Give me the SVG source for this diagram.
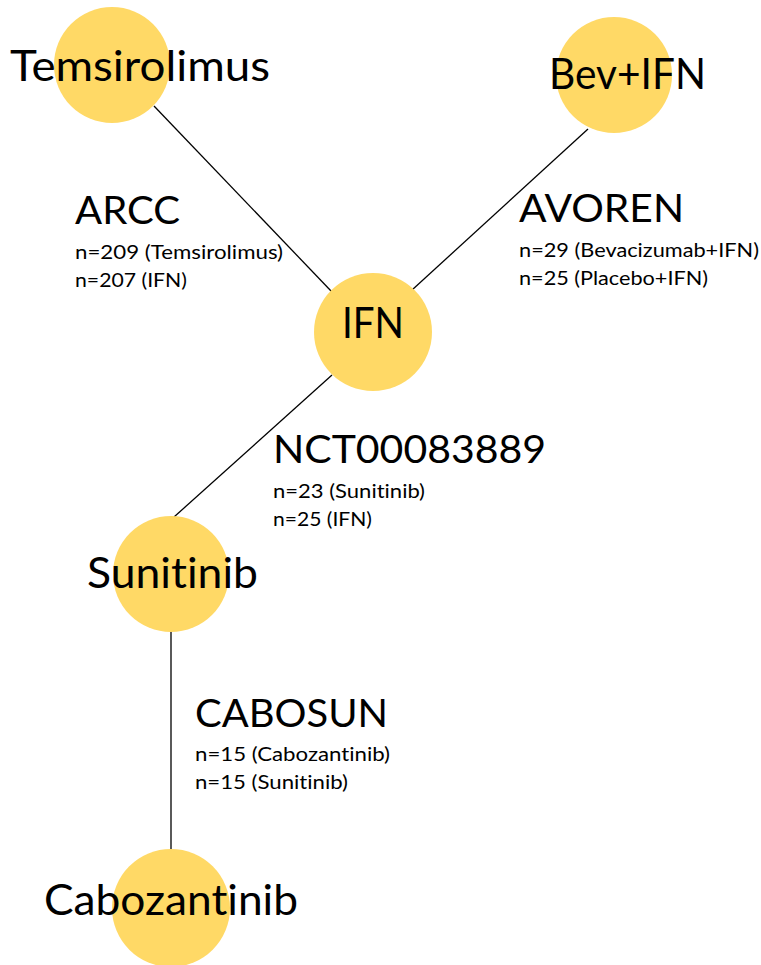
<svg xmlns="http://www.w3.org/2000/svg" width="761" height="965" viewBox="0 0 761 965">
<style>
.node{fill:#FFD966;}
.edge{stroke:#000;stroke-width:1.3;fill:none;}
text{font-family:Lato,"Open Sans","Liberation Sans",sans-serif;fill:#000;font-variant-ligatures:none;font-feature-settings:"liga" 0;}
.nl{font-size:42px;}
.tt{font-size:39px;}
.sm{font-size:19.5px;}
</style>
<rect width="761" height="965" fill="#fff"/>
<g id="connectors">
<line class="edge" x1="154" y1="106" x2="332" y2="292"/>
<line class="edge" x1="588" y1="129" x2="412" y2="290"/>
<line class="edge" x1="332" y1="375" x2="174" y2="517"/>
<line class="edge" x1="171" y1="630" x2="171" y2="851"/>
</g>
<g id="node-temsirolimus">
<circle class="node" cx="112" cy="65" r="58"/>
<text class="nl" x="10" y="81" textLength="260" lengthAdjust="spacingAndGlyphs">Temsirolimus</text>
</g>
<g id="node-bevifn">
<circle class="node" cx="614" cy="75" r="58"/>
<text class="nl" x="549" y="89" textLength="157" lengthAdjust="spacingAndGlyphs">Bev+IFN</text>
</g>
<g id="node-ifn">
<circle class="node" cx="373" cy="332" r="59"/>
<text class="nl" x="342" y="338" textLength="62" lengthAdjust="spacingAndGlyphs">IFN</text>
</g>
<g id="node-sunitinib">
<circle class="node" cx="171" cy="574" r="58"/>
<text class="nl" x="87" y="588" textLength="171" lengthAdjust="spacingAndGlyphs">Sunitinib</text>
</g>
<g id="node-cabozantinib">
<circle class="node" cx="171" cy="908" r="59"/>
<text class="nl" x="44" y="915" textLength="254" lengthAdjust="spacingAndGlyphs">Cabozantinib</text>
</g>
<g id="label-arcc">
<text class="tt" x="75" y="224" textLength="105" lengthAdjust="spacingAndGlyphs">ARCC</text>
<text class="sm" x="75" y="259" textLength="208" lengthAdjust="spacingAndGlyphs">n=209 (Temsirolimus)</text>
<text class="sm" x="75" y="287" textLength="112" lengthAdjust="spacingAndGlyphs">n=207 (IFN)</text>
</g>
<g id="label-avoren">
<text class="tt" x="519" y="222" textLength="165" lengthAdjust="spacingAndGlyphs">AVOREN</text>
<text class="sm" x="519" y="257" textLength="240" lengthAdjust="spacingAndGlyphs">n=29 (Bevacizumab+IFN)</text>
<text class="sm" x="519" y="285" textLength="189" lengthAdjust="spacingAndGlyphs">n=25 (Placebo+IFN)</text>
</g>
<g id="label-nct">
<text class="tt" x="273" y="463" textLength="273" lengthAdjust="spacingAndGlyphs">NCT00083889</text>
<text class="sm" x="273" y="498" textLength="152" lengthAdjust="spacingAndGlyphs">n=23 (Sunitinib)</text>
<text class="sm" x="273" y="526" textLength="99" lengthAdjust="spacingAndGlyphs">n=25 (IFN)</text>
</g>
<g id="label-cabosun">
<text class="tt" x="195" y="727" textLength="193" lengthAdjust="spacingAndGlyphs">CABOSUN</text>
<text class="sm" x="195" y="761" textLength="195" lengthAdjust="spacingAndGlyphs">n=15 (Cabozantinib)</text>
<text class="sm" x="195" y="789" textLength="153" lengthAdjust="spacingAndGlyphs">n=15 (Sunitinib)</text>
</g>
</svg>
